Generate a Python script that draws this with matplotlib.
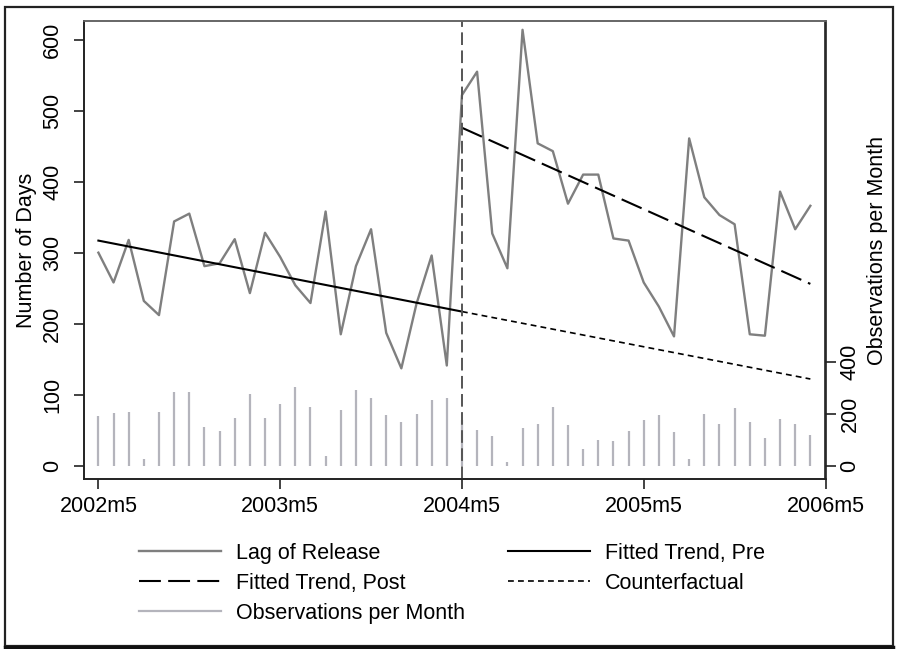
import matplotlib
matplotlib.use('Agg')
import matplotlib.pyplot as plt
from matplotlib.lines import Line2D
from matplotlib.patches import Rectangle

plt.rcParams['font.family'] = ['Liberation Sans', 'DejaVu Sans']
plt.rcParams['font.size'] = 15.5

# monthly series, 2002m5 .. 2006m4 (index 0 = 2002m5)
lag_release = [300, 258, 318, 232, 212, 344, 355, 281, 285, 319, 243, 328,
               294, 254, 229, 358, 185, 281, 333, 187, 137, 228, 296, 141,
               522, 555, 327, 278, 614, 454, 443, 369, 410, 410, 320, 317,
               258, 224, 182, 461, 378, 353, 340, 185, 183, 386, 333, 366]
obs_per_month = [191, 204, 206, 27, 209, 284, 286, 150, 134, 184, 277, 183,
                 239, 304, 228, 37, 215, 294, 262, 197, 169, 201, 253, 260,
                 175, 137, 116, 13, 144, 162, 227, 156, 65, 101, 97, 134,
                 177, 197, 132, 27, 201, 161, 223, 170, 106, 181, 161, 120]
months = list(range(len(lag_release)))

# fitted trends (endpoints)
pre_x, pre_y = [0, 24], [317, 217]
post_x, post_y = [24, 47], [476, 256]
cf_x, cf_y = [24, 47], [217, 122]
break_month = 24

xtick_pos = [0, 12, 24, 36, 48]
xtick_lab = ['2002m5', '2003m5', '2004m5', '2005m5', '2006m5']
left_ticks = [0, 100, 200, 300, 400, 500, 600]
right_ticks = [0, 200, 400]

W, H = 897, 649
fig = plt.figure(figsize=(W / 100, H / 100), dpi=100)
ax = fig.add_axes([84 / W, 1 - 479 / H, (825.5 - 84) / W, (479 - 21) / H])
ax2 = ax.twinx()
ax.set_zorder(ax2.get_zorder() + 1)
ax.patch.set_visible(False)

lag_c = '#7f7f7f'
bar_c = '#b4b4bc'

ax2.vlines(months, 0, obs_per_month, color=bar_c, lw=1.6)
ax.plot(months, lag_release, color=lag_c, lw=1.7)
ax.plot(pre_x, pre_y, color='black', lw=1.5)
ax.plot(post_x, post_y, color='black', lw=1.5, dashes=(10.5, 3.5))
ax.plot(cf_x, cf_y, color='black', lw=1.2, dashes=(3.5, 2.5))
ax.axvline(break_month, color='#555555', lw=1.4, dashes=(6.5, 2.8))

ax.set_xlim(-0.95, 48)
ax.set_ylim(-18.9, 626.4)
ax2.set_ylim(-51.5, 1720)

ax.set_xticks(xtick_pos)
ax.set_xticklabels(xtick_lab)
ax.set_yticks(left_ticks)
ax2.set_yticks(right_ticks)
for lab in ax.get_yticklabels() + ax2.get_yticklabels():
    lab.set_rotation(90)
    lab.set_va('center')
ax.tick_params(axis='y', length=7, width=1.2, pad=8, color='#222222')
ax.tick_params(axis='x', length=7, width=1.2, pad=5, color='#222222')
ax2.tick_params(axis='y', length=8, width=1.2, pad=2, color='#222222')

ax.set_ylabel('Number of Days', labelpad=4)
ax2.set_ylabel('Observations per Month', labelpad=5)

for a in (ax, ax2):
    for s in a.spines.values():
        s.set_linewidth(1.2)
        s.set_color('#222222')
    a.spines['top'].set_color('#666666')

handles = [
    Line2D([], [], color=lag_c, lw=1.7),
    Line2D([], [], color='black', lw=1.5, dashes=(10.5, 3.5)),
    Line2D([], [], color=bar_c, lw=1.6),
    Line2D([], [], color='black', lw=1.5),
    Line2D([], [], color='black', lw=1.2, dashes=(3.5, 2.5)),
]
labels = ['Lag of Release', 'Fitted Trend, Post', 'Observations per Month',
          'Fitted Trend, Pre', 'Counterfactual']
fig.legend(handles, labels, ncol=2, frameon=False, loc='upper left',
           bbox_to_anchor=(128 / W, 1 - 532 / H), borderpad=0,
           handlelength=3.8, handletextpad=0.7, labelspacing=0.42,
           columnspacing=2.0)

fig.patches.append(Rectangle((5 / W, 3 / H), (893 - 5) / W, (644 - 5) / H,
                             transform=fig.transFigure, fill=False,
                             ec='#222222', lw=1.6))
fig.add_artist(Line2D([5 / W, 893 / W], [2.5 / H, 2.5 / H],
                      transform=fig.transFigure, color='#111111', lw=2.5))

fig.savefig('out.png', dpi=100)
